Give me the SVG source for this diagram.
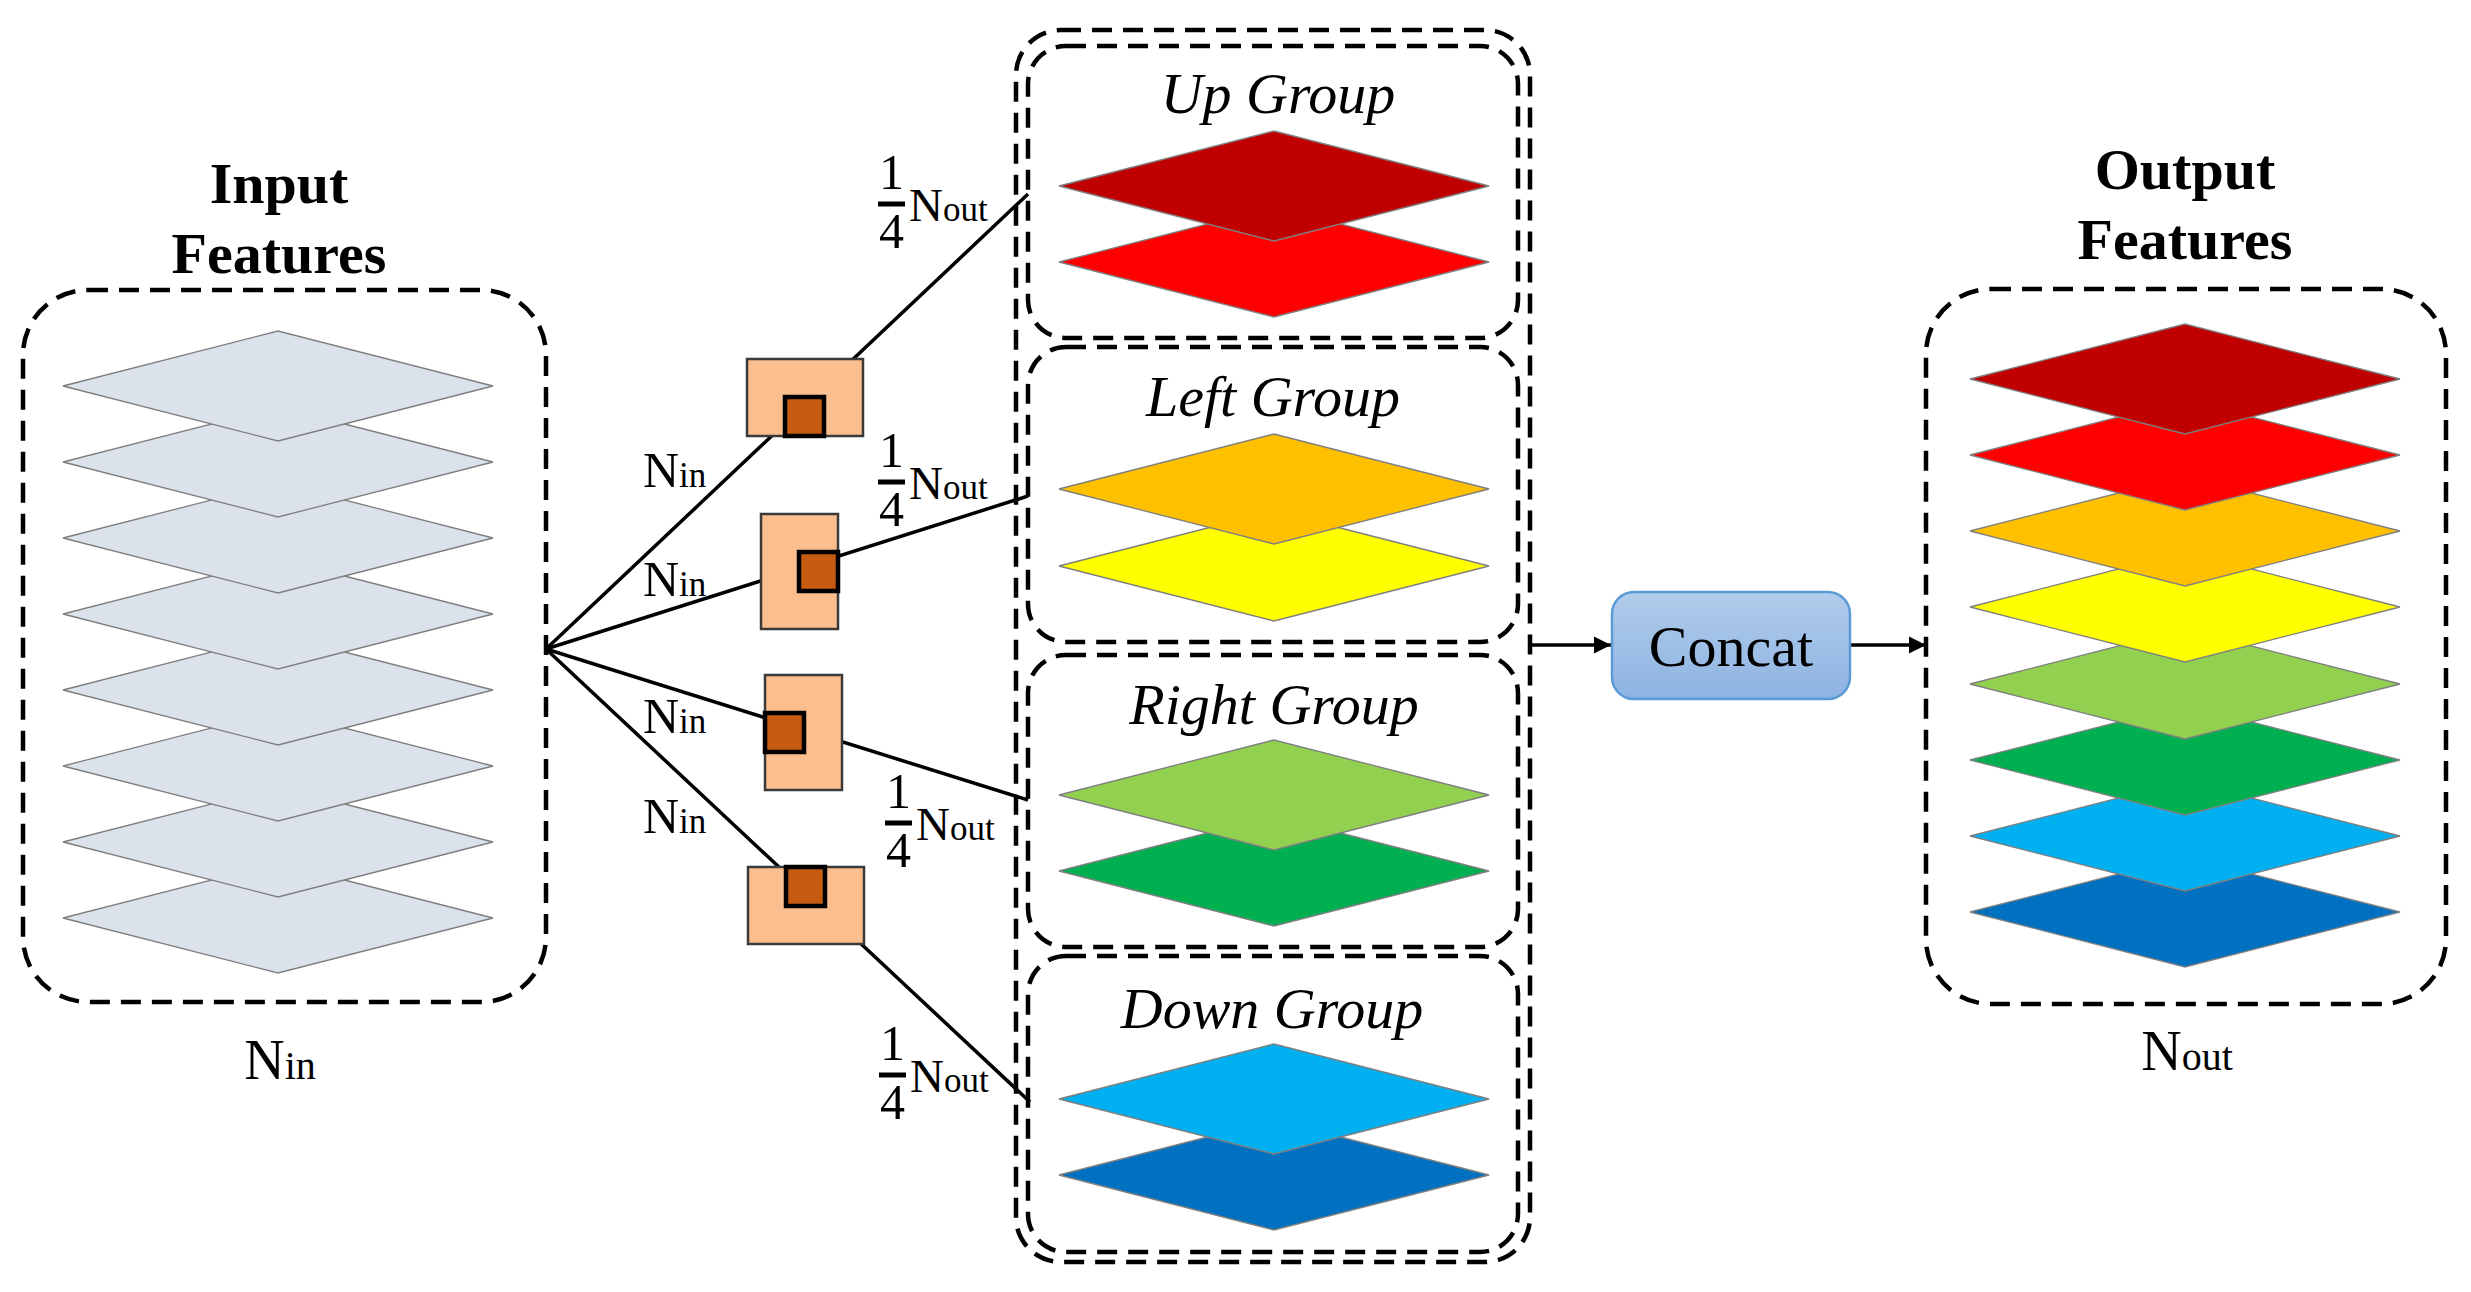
<svg xmlns="http://www.w3.org/2000/svg" xmlns:xlink="http://www.w3.org/1999/xlink" width="2471" height="1292" viewBox="0 0 2471 1292">
<style>
.dash{fill:none;stroke:#000;stroke-width:4.5;stroke-dasharray:20 11}
.lyr{stroke:#7f7f7f;stroke-width:1.3}
.t{font-family:"Liberation Serif","Times New Roman",serif;fill:#000}
.title{font-weight:bold;font-size:58px;text-anchor:middle}
.grp{font-style:italic;font-size:58px;text-anchor:middle}
.conn{stroke:#000;stroke-width:3.5;fill:none}
.kb{fill:#FBBE8E;stroke:#3a3a3a;stroke-width:2.5}
.ki{fill:#C55A11;stroke:#000;stroke-width:4.5}
</style>
<defs>
<polygon id="d" points="-215,0 0,-55 215,0 0,55"/>
<linearGradient id="cg" x1="0" y1="0" x2="0" y2="1">
<stop offset="0" stop-color="#B2CCEB"/>
<stop offset="1" stop-color="#8DB3E2"/>
</linearGradient>
<marker id="ah" viewBox="0 0 10 10" refX="10" refY="5" markerWidth="5" markerHeight="5" orient="auto" markerUnits="strokeWidth">
<path d="M0,0 L10,5 L0,10 z" fill="#000"/>
</marker>
</defs>
<rect width="2471" height="1292" fill="#fff"/>

<g id="connectors">
<line class="conn" x1="546" y1="649" x2="1028" y2="194"/>
<line class="conn" x1="546" y1="649" x2="1028" y2="496"/>
<line class="conn" x1="546" y1="649" x2="1028" y2="800"/>
<line class="conn" x1="546" y1="649" x2="1030" y2="1102"/>
<line class="conn" x1="1530" y1="645" x2="1611" y2="645" marker-end="url(#ah)"/>
<line class="conn" x1="1851" y1="645" x2="1926" y2="645" marker-end="url(#ah)"/>
</g>

<g id="input-features">
<text class="t title" x="279" y="203">Input</text>
<text class="t title" x="279" y="273">Features</text>
<rect class="dash" x="23" y="290" width="523" height="712" rx="65"/>
<use href="#d" class="lyr" fill="#DCE2EC" transform="translate(278,918)"/>
<use href="#d" class="lyr" fill="#DCE2EC" transform="translate(278,842)"/>
<use href="#d" class="lyr" fill="#DCE2EC" transform="translate(278,766)"/>
<use href="#d" class="lyr" fill="#DCE2EC" transform="translate(278,690)"/>
<use href="#d" class="lyr" fill="#DCE2EC" transform="translate(278,614)"/>
<use href="#d" class="lyr" fill="#DCE2EC" transform="translate(278,538)"/>
<use href="#d" class="lyr" fill="#DCE2EC" transform="translate(278,462)"/>
<use href="#d" class="lyr" fill="#DCE2EC" transform="translate(278,386)"/>
<text class="t" x="280" y="1079" text-anchor="middle"><tspan font-size="56">N</tspan><tspan font-size="40">in</tspan></text>
</g>

<g id="kernel-up">
<rect class="kb" x="747" y="359" width="116" height="77"/>
<rect class="ki" x="785" y="397" width="39" height="39"/>
</g>
<g id="kernel-left">
<rect class="kb" x="761" y="514" width="77" height="115"/>
<rect class="ki" x="799" y="552" width="39" height="39"/>
</g>
<g id="kernel-right">
<rect class="kb" x="765" y="675" width="77" height="115"/>
<rect class="ki" x="765" y="713" width="39" height="39"/>
</g>
<g id="kernel-down">
<rect class="kb" x="748" y="867" width="116" height="77"/>
<rect class="ki" x="786" y="867" width="39" height="39"/>
</g>

<g id="labels-nin">
<text class="t" x="643" y="487"><tspan font-size="50">N</tspan><tspan font-size="35">in</tspan></text>
<text class="t" x="643" y="596"><tspan font-size="50">N</tspan><tspan font-size="35">in</tspan></text>
<text class="t" x="643" y="733"><tspan font-size="50">N</tspan><tspan font-size="35">in</tspan></text>
<text class="t" x="643" y="833"><tspan font-size="50">N</tspan><tspan font-size="35">in</tspan></text>
</g>

<g id="labels-nout">
<g transform="translate(878,204)">
<text class="t" x="13.5" y="-15" font-size="50" text-anchor="middle">1</text>
<rect x="0" y="-2.5" width="27" height="5" fill="#000"/>
<text class="t" x="13.5" y="44" font-size="50" text-anchor="middle">4</text>
<text class="t" x="31" y="17"><tspan font-size="47">N</tspan><tspan font-size="35">out</tspan></text>
</g>
<g transform="translate(878,482)">
<text class="t" x="13.5" y="-15" font-size="50" text-anchor="middle">1</text>
<rect x="0" y="-2.5" width="27" height="5" fill="#000"/>
<text class="t" x="13.5" y="44" font-size="50" text-anchor="middle">4</text>
<text class="t" x="31" y="17"><tspan font-size="47">N</tspan><tspan font-size="35">out</tspan></text>
</g>
<g transform="translate(885,823)">
<text class="t" x="13.5" y="-15" font-size="50" text-anchor="middle">1</text>
<rect x="0" y="-2.5" width="27" height="5" fill="#000"/>
<text class="t" x="13.5" y="44" font-size="50" text-anchor="middle">4</text>
<text class="t" x="31" y="17"><tspan font-size="47">N</tspan><tspan font-size="35">out</tspan></text>
</g>
<g transform="translate(879,1075)">
<text class="t" x="13.5" y="-15" font-size="50" text-anchor="middle">1</text>
<rect x="0" y="-2.5" width="27" height="5" fill="#000"/>
<text class="t" x="13.5" y="44" font-size="50" text-anchor="middle">4</text>
<text class="t" x="31" y="17"><tspan font-size="47">N</tspan><tspan font-size="35">out</tspan></text>
</g>
</g>

<g id="groups-container">
<rect class="dash" x="1016" y="30" width="514" height="1232" rx="45"/>
</g>

<g id="up-group">
<rect class="dash" x="1028" y="46" width="490" height="292" rx="38"/>
<text class="t grp" x="1278" y="113">Up Group</text>
<use href="#d" class="lyr" fill="#FF0000" transform="translate(1274,262)"/>
<use href="#d" class="lyr" fill="#C00000" transform="translate(1274,186)"/>
</g>
<g id="left-group">
<rect class="dash" x="1028" y="347" width="490" height="295" rx="38"/>
<text class="t grp" x="1273" y="416">Left Group</text>
<use href="#d" class="lyr" fill="#FFFF00" transform="translate(1274,566)"/>
<use href="#d" class="lyr" fill="#FFC000" transform="translate(1274,489)"/>
</g>
<g id="right-group">
<rect class="dash" x="1028" y="655" width="490" height="292" rx="38"/>
<text class="t grp" x="1274" y="724">Right Group</text>
<use href="#d" class="lyr" fill="#00B050" transform="translate(1274,871)"/>
<use href="#d" class="lyr" fill="#92D050" transform="translate(1274,795)"/>
</g>
<g id="down-group">
<rect class="dash" x="1028" y="956" width="490" height="296" rx="38"/>
<text class="t grp" x="1272" y="1028">Down Group</text>
<use href="#d" class="lyr" fill="#0070C0" transform="translate(1274,1175)"/>
<use href="#d" class="lyr" fill="#00B0F0" transform="translate(1274,1099)"/>
</g>

<g id="concat">
<rect x="1612" y="592" width="238" height="107" rx="22" fill="url(#cg)" stroke="#5B9BD5" stroke-width="2.5"/>
<text class="t" x="1731" y="666" font-size="58" text-anchor="middle">Concat</text>
</g>

<g id="output-features">
<text class="t title" x="2185" y="189">Output</text>
<text class="t title" x="2185" y="259">Features</text>
<rect class="dash" x="1926" y="289" width="520" height="715" rx="65"/>
<use href="#d" class="lyr" fill="#0070C0" transform="translate(2185,912)"/>
<use href="#d" class="lyr" fill="#00B0F0" transform="translate(2185,836)"/>
<use href="#d" class="lyr" fill="#00B050" transform="translate(2185,760)"/>
<use href="#d" class="lyr" fill="#92D050" transform="translate(2185,684)"/>
<use href="#d" class="lyr" fill="#FFFF00" transform="translate(2185,607)"/>
<use href="#d" class="lyr" fill="#FFC000" transform="translate(2185,531)"/>
<use href="#d" class="lyr" fill="#FF0000" transform="translate(2185,455)"/>
<use href="#d" class="lyr" fill="#C00000" transform="translate(2185,379)"/>
<text class="t" x="2187" y="1070" text-anchor="middle"><tspan font-size="56">N</tspan><tspan font-size="40">out</tspan></text>
</g>
</svg>
